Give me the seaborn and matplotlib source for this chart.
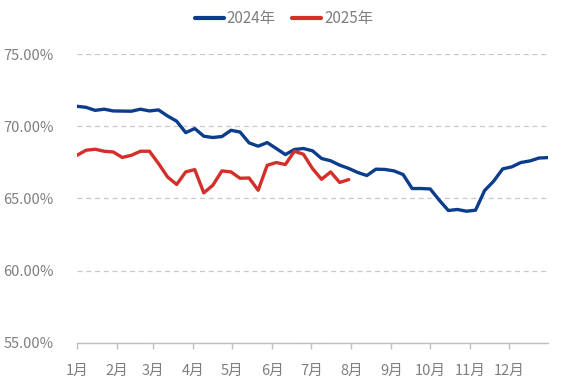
import numpy as np
import pandas as pd
import seaborn as sns
from matplotlib import pyplot as plt
from matplotlib.ticker import FuncFormatter

# weekly values, %
rate_2024 = [71.38, 71.31, 71.10, 71.18, 71.06, 71.05, 71.04, 71.18, 71.06, 71.13,
             70.71, 70.35, 69.56, 69.84, 69.31, 69.22, 69.29, 69.72, 69.60, 68.85,
             68.62, 68.87, 68.46, 68.04, 68.39, 68.46, 68.30, 67.77, 67.61, 67.31,
             67.08, 66.80, 66.59, 67.03, 67.01, 66.91, 66.66, 65.69, 65.69, 65.66,
             64.88, 64.17, 64.24, 64.12, 64.19, 65.55, 66.20, 67.05, 67.19, 67.49,
             67.60, 67.80, 67.83]
rate_2025 = [67.99, 68.34, 68.41, 68.27, 68.22, 67.84, 67.99, 68.27, 68.27, 67.42,
             66.49, 65.97, 66.84, 67.00, 65.39, 65.92, 66.91, 66.84, 66.40, 66.42,
             65.57, 67.30, 67.49, 67.35, 68.27, 68.06, 67.07, 66.33, 66.84, 66.11,
             66.31]
month_labels = ['1月', '2月', '3月', '4月', '5月', '6月', '7月', '8月', '9月', '10月', '11月', '12月']
month_start_day = [0, 31, 59, 90, 120, 151, 181, 212, 243, 273, 304, 334]

df = pd.concat([
    pd.DataFrame({'day': np.arange(len(rate_2024)) * 7, 'rate': rate_2024, 'year': '2024年'}),
    pd.DataFrame({'day': np.arange(len(rate_2025)) * 7, 'rate': rate_2025, 'year': '2025年'}),
])

sns.set_theme(style='white')
plt.rcParams['font.family'] = ['Noto Sans CJK SC', 'DejaVu Sans']
txt = '#7f7f7f'

fig = plt.figure(figsize=(5.68, 3.92), dpi=100)
ax = fig.add_axes([77 / 568, 1 - 343 / 392, 471 / 568, 289 / 392])

sns.lineplot(data=df, x='day', y='rate', hue='year',
             palette={'2024年': '#0b3d8c', '2025年': '#d3302a'},
             linewidth=2.4, ax=ax, legend=True)

ax.set_xlim(0, 364)
ax.set_ylim(55, 75)
ax.set_yticks([55, 60, 65, 70, 75])
ax.yaxis.set_major_formatter(FuncFormatter(lambda v, p: '%.2f%%' % v))
ax.set_xticks(month_start_day)
ax.set_xticklabels(month_labels)
ax.set_xlabel('')
ax.set_ylabel('')

ax.grid(axis='y', color='#c8c8c8', linestyle=(0, (4, 3)), linewidth=0.9)
ax.grid(axis='x', visible=False)
for s in ['top', 'right', 'left']:
    ax.spines[s].set_visible(False)
ax.spines['bottom'].set_color('#bfbfbf')
ax.spines['bottom'].set_linewidth(1.0)

ax.tick_params(axis='x', bottom=True, length=4, color='#bfbfbf', width=1.0,
               labelsize=10.5, labelcolor=txt, pad=11)
ax.tick_params(axis='y', left=False, labelsize=10.5, labelcolor=txt, pad=11)

# legend centred on the figure, not the axes
handles, labels = ax.get_legend_handles_labels()
ax.get_legend().remove()
leg = fig.legend(handles, labels, loc='center', bbox_to_anchor=(0.5, 1 - 19 / 392), ncol=2,
                 frameon=False, fontsize=11, handlelength=1.9, handletextpad=0.2,
                 columnspacing=1.1, borderaxespad=0)
for t in leg.get_texts():
    t.set_color(txt)
for h in leg.get_lines():
    h.set_linewidth(3)

fig.savefig('out.png', dpi=100)
